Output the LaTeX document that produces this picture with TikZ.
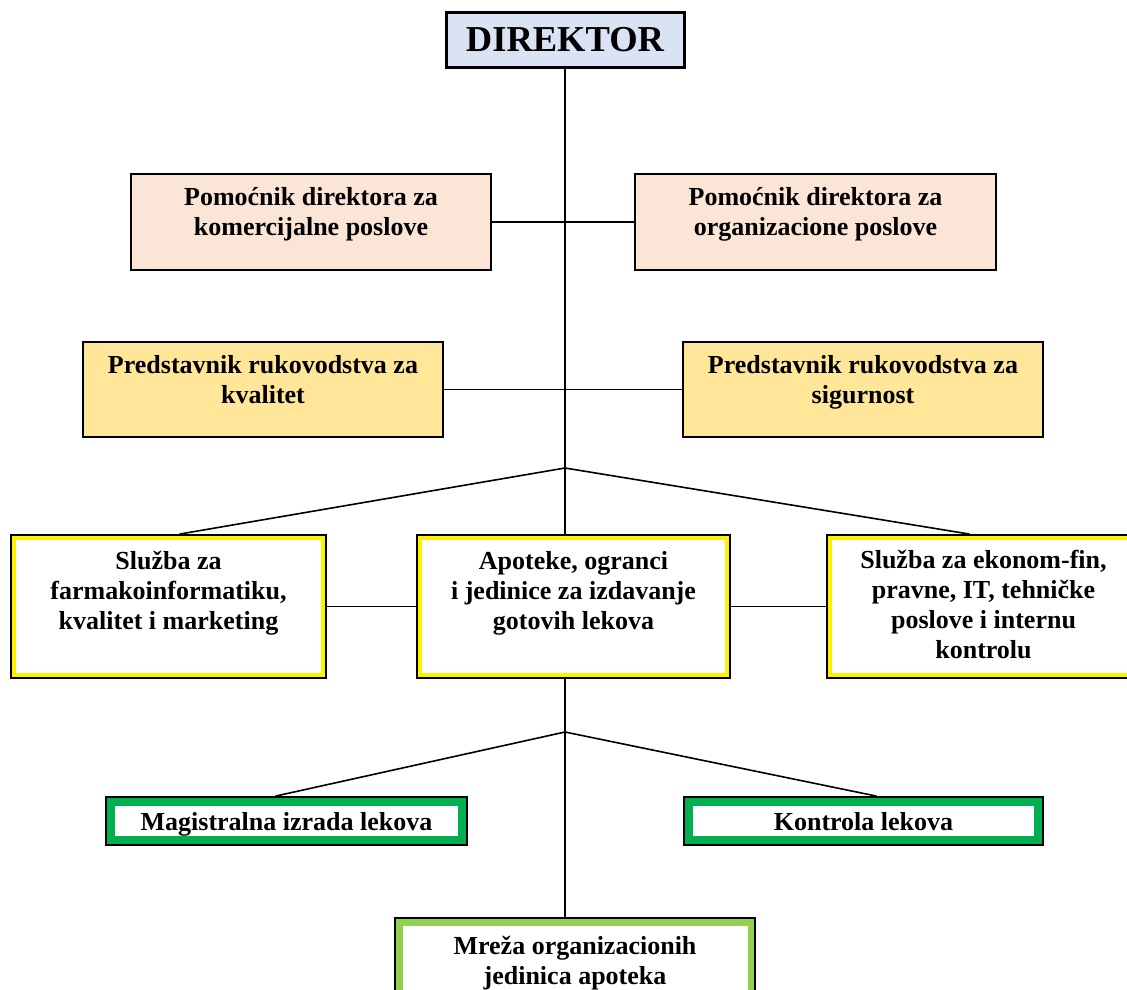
\documentclass[tikz,border=0pt]{standalone}
\usepackage{fontspec}
\setmainfont{Liberation Serif}
\definecolor{dirblue}{HTML}{DAE3F3}
\definecolor{peach}{HTML}{FBE5D6}
\definecolor{gold}{HTML}{FFE699}
\definecolor{dkgreen}{HTML}{00B050}
\definecolor{ltgreen}{HTML}{92D050}
% box text hangs from the top edge
\newcommand{\toptext}[4][31]{\parbox[c][#3pt][t]{#2pt}{\centering\rule{0pt}{#1pt}#4}}
\tikzset{
  unit/.style={draw=black, line width=1.8pt, inner sep=0pt},
  band/.style 2 args={unit, fill=#1, path picture={\fill[white]
    ([shift={(#2,-#2)}]path picture bounding box.north west) rectangle
    ([shift={(-#2,#2)}]path picture bounding box.south east);}},
  link/.style={line width=1.6pt},
}
\begin{document}
\begin{tikzpicture}[x=1pt,y=-1pt,font=\fontsize{26}{30}\selectfont\bfseries]
\useasboundingbox (0,0) rectangle (1127,990);
\clip (0,0) rectangle (1127,990);

\node[unit, fill=dirblue, line width=3pt, minimum width=238pt, minimum height=55pt,
  font=\fontsize{36.5}{40}\selectfont\bfseries] (dir) at (565,40) {DIREKTOR};

\node[unit, fill=peach] (pkom) at (311,222) {\toptext{360}{96}{Pomoćnik direktora za\\komercijalne poslove}};
\node[unit, fill=peach] (porg) at (815.5,222) {\toptext{361}{96}{Pomoćnik direktora za\\organizacione poslove}};

\node[unit, fill=gold] (pkval) at (263,389.5) {\toptext{360}{95}{Predstavnik rukovodstva za\\kvalitet}};
\node[unit, fill=gold] (psig) at (863,389.5) {\toptext{360}{95}{Predstavnik rukovodstva za\\sigurnost}};

\begin{scope}[every node/.style={band={yellow}{5pt}}]
\node (sfarm) at (168.5,606.5) {\toptext[34]{315}{143}{Služba za\\farmakoinformatiku,\\kvalitet i marketing}};
\node (apot) at (573.5,606.5) {\toptext[34]{313}{143}{Apoteke, ogranci\\i jedinice za izdavanje\\gotovih lekova}};
\node (sekon) at (983.5,606.5) {\toptext[33]{313}{143}{Služba za ekonom-fin,\\pravne, IT, tehničke\\poslove i internu\\kontrolu}};
\end{scope}

\begin{scope}[every node/.style={band={dkgreen}{9pt}, minimum height=48pt, text depth=0pt}]
\node[minimum width=361pt] (mag) at (286.5,821) {Magistralna izrada lekova};
\node[minimum width=359pt] (kontr) at (863.5,821) {Kontrola lekova};
\end{scope}

\node[band={ltgreen}{7.5pt}] (mreza) at (575,964) {\toptext[36]{360}{92}{Mreža organizacionih\\jedinica apoteka}};

% connectors
\coordinate (b1) at (565,468);
\coordinate (b2) at (565,732);
\begin{scope}[link]
\draw (dir.south) -- (dir.south |- apot.north);
\draw (pkom) -- (porg);
\draw (pkval) -- (psig);
\draw ([xshift=11pt]sfarm.north) -- (b1) -- ([xshift=-14pt]sekon.north);
\draw (sfarm) -- (apot);
\draw (apot) -- (sekon);
\draw (dir.south |- apot.south) -- (dir.south |- mreza.north);
\draw ([xshift=-11pt]mag.north) -- (b2) -- ([xshift=13pt]kontr.north);
\end{scope}
\end{tikzpicture}
\end{document}
